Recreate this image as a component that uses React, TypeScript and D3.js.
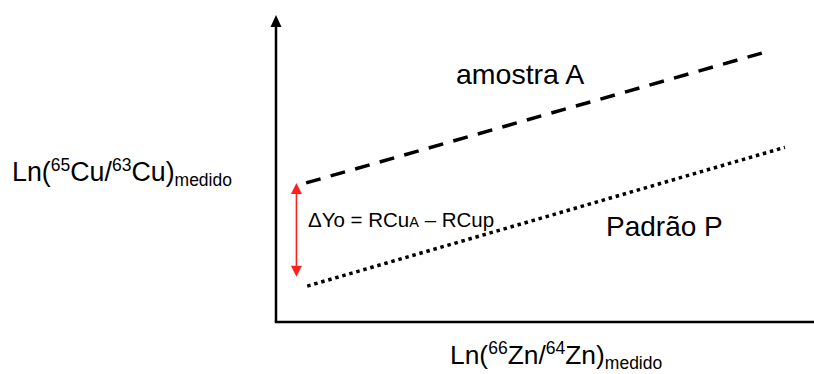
import React from "react";
import * as d3 from "d3";

const W = 814;
const H = 374;

// Data (abstract units 0..100 on each axis)
const sampleA: [number, number][] = [
  [5.6, 45.3],
  [90.3, 87.6],
];
const standardP: [number, number][] = [
  [5.8, 11.7],
  [94.6, 56.9],
];
const deltaX = 3.8;
const deltaY: [number, number] = [45.3, 14.7];
const labels = {
  sample: "amostra A",
  standard: "Padrão P",
};

const FONT = "'Liberation Sans', Arial, Helvetica, sans-serif";

export default function App() {
  const x = d3.scaleLinear().domain([0, 100]).range([276, 814]);
  const y = d3.scaleLinear().domain([0, 100]).range([322, 15]);
  const line = d3
    .line<[number, number]>()
    .x((d) => x(d[0]))
    .y((d) => y(d[1]));

  const ax = x(deltaX);
  const y1 = y(deltaY[0]);
  const y2 = y(deltaY[1]);

  return (
    <svg
      width={W}
      height={H}
      style={{ position: "fixed", left: 0, top: 0, background: "#fff" }}
      fontFamily={FONT}
    >
      <rect x={0} y={0} width={W} height={H} fill="#fff" />
      {/* axes */}
      <line x1={x(0)} y1={y(0)} x2={x(0)} y2={24} stroke="#000" strokeWidth={2.5} />
      <path d={`M${x(0)},15 L${x(0) - 5.5},27 L${x(0) + 5.5},27 Z`} fill="#000" />
      <line x1={x(0) - 1.2} y1={y(0)} x2={W} y2={y(0)} stroke="#000" strokeWidth={2.5} />

      {/* lines */}
      <path d={line(sampleA) || ""} fill="none" stroke="#000" strokeWidth={3.5} strokeDasharray="15 10.5" />
      <path d={line(standardP) || ""} fill="none" stroke="#000" strokeWidth={3.5} strokeDasharray="3.5 3.8" />

      {/* red double arrow */}
      <line x1={ax} y1={y1 + 9} x2={ax} y2={y2 - 9} stroke="#ff2020" strokeWidth={1.6} />
      <path d={`M${ax},${y1} L${ax - 5.5},${y1 + 11} L${ax + 5.5},${y1 + 11} Z`} fill="#ff2020" />
      <path d={`M${ax},${y2} L${ax - 5.5},${y2 - 11} L${ax + 5.5},${y2 - 11} Z`} fill="#ff2020" />

      {/* texts */}
      <text x={456} y={84} fontSize={28.5} fill="#000">
        {labels.sample}
      </text>
      <text x={606} y={236} fontSize={28} fill="#000">
        {labels.standard}
      </text>

      <text x={308} y={227} fontSize={20.5} fill="#000">
        <tspan>ΔYo = RCu</tspan>
        <tspan fontSize={14.5}>A</tspan>
        <tspan> – RCup</tspan>
      </text>

      <text x={12} y={181} fontSize={26.8} fill="#000">
        <tspan>Ln(</tspan>
        <tspan fontSize={17.5} dy={-10}>65</tspan>
        <tspan dy={10}>Cu/</tspan>
        <tspan fontSize={17.5} dy={-10}>63</tspan>
        <tspan dy={10}>Cu)</tspan>
        <tspan fontSize={17.5} dy={5}>medido</tspan>
      </text>

      <text x={450} y={364} fontSize={26.4} fill="#000">
        <tspan>Ln(</tspan>
        <tspan fontSize={17.5} dy={-10}>66</tspan>
        <tspan dy={10}>Zn/</tspan>
        <tspan fontSize={17.5} dy={-10}>64</tspan>
        <tspan dy={10}>Zn)</tspan>
        <tspan fontSize={17.5} dy={5}>medido</tspan>
      </text>
    </svg>
  );
}
